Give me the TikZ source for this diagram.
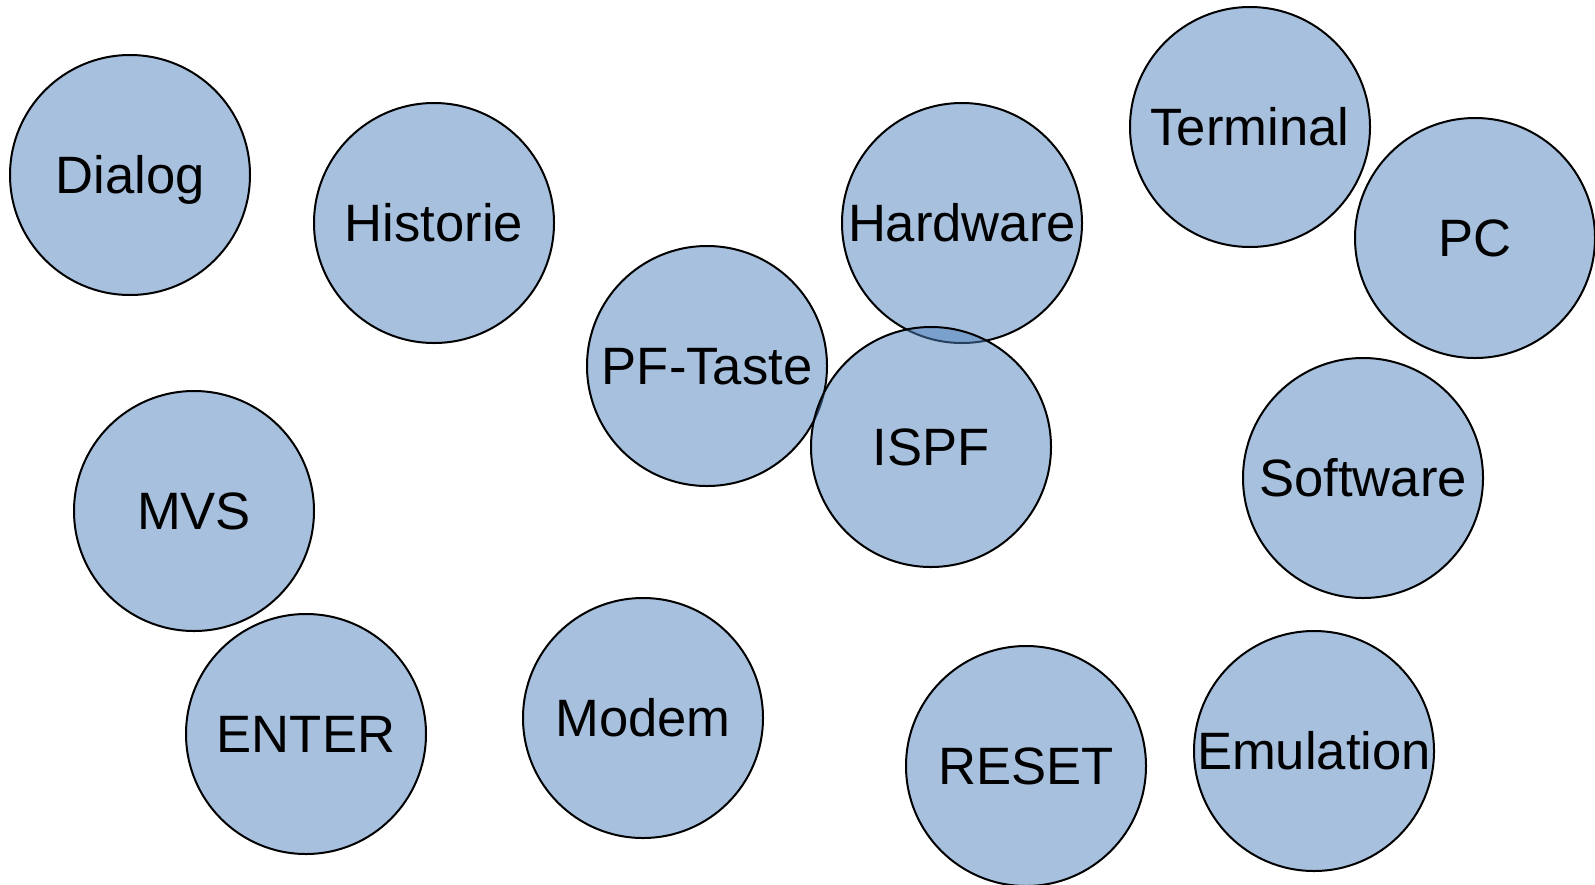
\documentclass[tikz,border=0pt]{standalone}
\usepackage{fontspec}
\setmainfont{Liberation Sans}
\usepackage{xcolor}
\definecolor{bubblefill}{HTML}{4F81BD}

\begin{document}
\begin{tikzpicture}[x=0.5pt, y=-0.5pt,
  bubble/.style={circle, draw=black, line width=1pt, fill=bubblefill, fill opacity=0.5, text opacity=1, minimum size=120pt, inner sep=0pt, text height=18.8pt, text depth=0pt, font=\fontsize{26.3}{31}\selectfont}]
\useasboundingbox (0,0) rectangle (1595,884);

\node[bubble] (dialog) at (130,175) {Dialog};
\node[bubble] (historie) at (434,223) {Historie};
\node[bubble] (pftaste) at (707,366) {PF-Taste};
\node[bubble] (hardware) at (962,223) {Hardware};
\node[bubble] (ispf) at (931,447) {ISPF};
\node[bubble] (terminal) at (1250,127) {Terminal};
\node[bubble] (pc) at (1475,238) {PC};
\node[bubble] (software) at (1363,478) {Software};
\node[bubble] (mvs) at (194,511) {MVS};
\node[bubble] (enter) at (306,734) {ENTER};
\node[bubble] (modem) at (643,718) {Modem};
\node[bubble] (reset) at (1026,766) {RESET};
\node[bubble] (emulation) at (1314,751) {Emulation};
\end{tikzpicture}
\end{document}
